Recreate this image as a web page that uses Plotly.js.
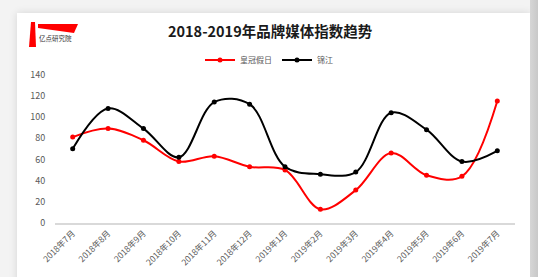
<!DOCTYPE html>
<html>
<head>
<meta charset="utf-8">
<script src="https://cdn.plot.ly/plotly-3.0.1.min.js"></script>
<style>
  html, body { margin:0; padding:0; width:538px; height:277px; overflow:hidden; background:#f3f3f3; font-family:"Noto Sans CJK SC", sans-serif; }
  #card { position:absolute; left:17px; top:13px; width:513px; height:280px; background:#ffffff; box-shadow:0 0 8px rgba(0,0,0,0.12); }
  #strip { position:absolute; left:530px; top:0; width:8px; height:277px; background:linear-gradient(to right,#d6d6d6,#c8c8c8); }
  #chart { position:absolute; left:0; top:0; width:538px; height:277px; z-index:1; }
  #logo { position:absolute; left:28px; top:20px; z-index:2; }
</style>
</head>
<body>
<div id="card"></div>
<div id="strip"></div>
<div id="chart"></div>
<svg id="logo" width="56" height="30" viewBox="0 0 56 30">
  <polygon points="3,2 7,2 8,27 1,27" fill="#ff0000"/>
  <polygon points="10,4 50,4 46,13 10,8" fill="#ff0000"/>
  <text x="11" y="21" font-size="6.5" fill="#333" font-family="Noto Sans CJK SC">亿点研究院</text>
</svg>
<script>
const categories = ["2018年7月","2018年8月","2018年9月","2018年10月","2018年11月","2018年12月","2019年1月","2019年2月","2019年3月","2019年4月","2019年5月","2019年6月","2019年7月"];
const seriesNames = ["皇冠假日","锦江"];
const crowne = [81, 89, 78, 58, 63, 53, 50, 13, 31, 66, 45, 44, 115];
const jinjiang = [70, 108, 89, 62, 114, 112, 53, 46, 48, 104, 88, 58, 68];
const yTicks = [0, 20, 40, 60, 80, 100, 120, 140];

const font = "Noto Sans CJK SC, sans-serif";
const traces = [
  { x: categories, y: crowne, name: seriesNames[0], type: "scatter", mode: "lines+markers",
    line: { color: "#ff0000", width: 2, shape: "spline", smoothing: 1 },
    marker: { color: "#ff0000", size: 5, symbol: "circle" } },
  { x: categories, y: jinjiang, name: seriesNames[1], type: "scatter", mode: "lines+markers",
    line: { color: "#000000", width: 2, shape: "spline", smoothing: 1 },
    marker: { color: "#000000", size: 5, symbol: "circle" } }
];
const layout = {
  width: 538, height: 277,
  paper_bgcolor: "rgba(0,0,0,0)", plot_bgcolor: "rgba(0,0,0,0)",
  margin: { l: 55, r: 23, t: 74, b: 54 },
  font: { family: font, color: "#595959" },
  title: { text: "<b>2018-2019年品牌媒体指数趋势</b>", font: { family: font, size: 14.5, color: "#1a1a1a" },
           x: 0.502, xanchor: "center", y: 1 - 32/277, yref: "container", yanchor: "middle" },
  showlegend: true,
  legend: { orientation: "h", x: 0.5, xanchor: "center", xref: "container", y: 1 - 60/277, yref: "container", yanchor: "middle",
            font: { family: font, size: 8, color: "#595959" }, itemwidth: 30, tracegroupgap: 0 },
  xaxis: { type: "category", range: [-0.5, 12.5], tickangle: -45, tickfont: { family: font, size: 8.5, color: "#595959" },
           showgrid: false, zeroline: false, showline: true, linecolor: "#d9d9d9", linewidth: 2, ticks: "", fixedrange: true },
  yaxis: { range: [0, 140], tickvals: yTicks, ticktext: yTicks.map(String), tickfont: { family: font, size: 9, color: "#595959" },
           showgrid: false, zeroline: false, showline: false, ticks: "outside", ticklen: 7, tickcolor: "rgba(0,0,0,0)", fixedrange: true }
};
Plotly.newPlot("chart", traces, layout, { displayModeBar: false, staticPlot: true });
</script>
</body>
</html>
